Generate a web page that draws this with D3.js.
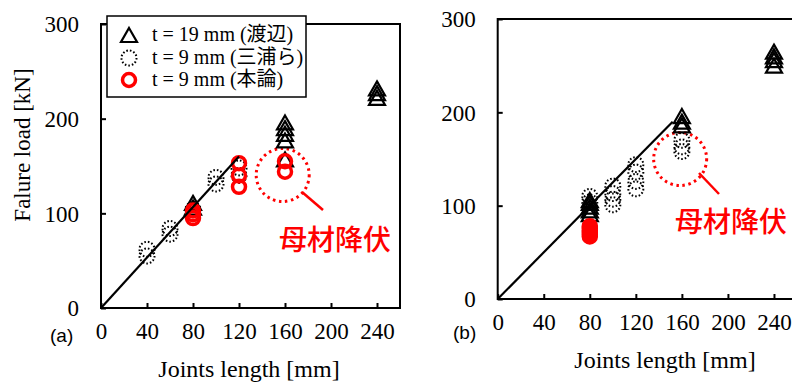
<!DOCTYPE html>
<html><head><meta charset="utf-8">
<script src="https://cdn.jsdelivr.net/npm/d3@7/dist/d3.min.js"></script>
<style>
body{margin:0;background:#fff;}
svg{display:block;}
</style></head>
<body><svg id="c" width="792" height="385"></svg>
<script>
// ---- data ----
const xTicks = [0, 40, 80, 120, 160, 200, 240];
const yTicks = [0, 100, 200, 300];
const xDomain = [0, 260];
const yDomain = [0, 300];
const legendLabels = ["t = 19 mm (渡辺)", "t = 9 mm (三浦ら)", "t = 9 mm (本論)"];
const annotationText = "母材降伏";
const xTitle = "Joints length [mm]";
const yTitle = "Falure load [kN]";

// panel (a)
const aT19 = [[80,106],[80,111],[160,157],[160,177],[160,184],[160,190],[160,196],[240,222],[240,227],[240,232]];
const aMiura = [[40,55],[40,62],[60,78],[60,84],[80,104],[100,131],[100,138],[120,140],[120,148]];
const aHonron = [[80,95],[80,99],[80,103],[120,128],[120,140],[120,153],[160,144],[160,155]];
const aLine = [[0,0],[120,160]];

// panel (b)
const bT19 = [[80,91],[80,95],[80,99],[80,103],[80,106],[160,186],[160,190],[160,196],[240,250],[240,256],[240,260],[240,265]];
const bMiura = [[80,104],[80,110],[100,101],[100,107],[100,113],[100,121],[120,118],[120,126],[120,136],[120,144],[160,158],[160,163],[160,170]];
const bHonron = [[80,67],[80,69],[80,71],[80,73],[80,76],[80,78]];
const bLine = [[0,0],[152,190]];

// ---- drawing ----
const svg = d3.select("#c");
const RED = "#ff0000";
const SERIF = '"Liberation Serif","Times New Roman",serif';
const SERIF_CJK = '"Liberation Serif","Noto Sans CJK JP",serif';
const SANS = '"Liberation Sans",Arial,sans-serif';
const CJK = '"Noto Sans CJK JP",sans-serif';

function triPath(cx, cy){
  const h = 14, w = 8;
  return `M${cx},${cy-h/2}L${cx+w},${cy+h/2}L${cx-w},${cy+h/2}Z`;
}

function panel(cfg){
  const x = d3.scaleLinear(xDomain, cfg.xr);
  const y = d3.scaleLinear(yDomain, cfg.yr);
  const g = svg.append("g");

  g.append("rect").attr("x", cfg.xr[0]).attr("y", cfg.yr[1])
    .attr("width", cfg.xr[1]-cfg.xr[0]).attr("height", cfg.yr[0]-cfg.yr[1])
    .attr("fill","none").attr("stroke","#000").attr("stroke-width",2);

  const xa = g.append("g").attr("transform",`translate(0,${cfg.yr[0]})`)
    .call(d3.axisBottom(x).tickValues(xTicks).tickSizeInner(-5).tickSizeOuter(0).tickPadding(15));
  const ya = g.append("g").attr("transform",`translate(${cfg.xr[0]},0)`)
    .call(d3.axisLeft(y).tickValues(yTicks).tickSizeInner(-5).tickSizeOuter(0).tickPadding(22));
  [xa, ya].forEach(a=>{
    a.attr("font-family", null).attr("font-size", null);
    a.select(".domain").remove();
    a.selectAll("line").attr("stroke","#000").attr("stroke-width",2);
    a.selectAll("text").style("font-family",SERIF).style("font-size","23px").attr("fill","#000");
  });
  ya.selectAll("text").attr("dy","0.34em");

  g.append("circle").attr("cx", x(cfg.ann.cx)).attr("cy", y(cfg.ann.cy)).attr("r", 26.5)
    .attr("fill","none").attr("stroke",RED).attr("stroke-width",3)
    .attr("stroke-dasharray","2.5,3.6");
  g.append("line").attr("x1",cfg.ann.l[0]).attr("y1",cfg.ann.l[1]).attr("x2",cfg.ann.l[2]).attr("y2",cfg.ann.l[3])
    .attr("stroke",RED).attr("stroke-width",2.5);
  g.append("text").attr("x",cfg.ann.tx).attr("y",cfg.ann.ty)
    .style("font-family",CJK).style("font-size","28px").style("font-weight","500")
    .attr("fill",RED).text(annotationText);

  g.selectAll(".tri").data(cfg.t19).join("path").attr("class","tri")
    .attr("d", d=>triPath(x(d[0]), y(d[1])))
    .attr("fill","none").attr("stroke","#000").attr("stroke-width",2.2);
  g.selectAll(".mi").data(cfg.miura).join("circle").attr("class","mi")
    .attr("cx", d=>x(d[0])).attr("cy", d=>y(d[1])).attr("r",7.5)
    .attr("fill","none").attr("stroke","#000").attr("stroke-width",2)
    .attr("stroke-dasharray","1.6,2");
  g.selectAll(".ho").data(cfg.hon).join("circle").attr("class","ho")
    .attr("cx", d=>x(d[0])).attr("cy", d=>y(d[1])).attr("r",6.5)
    .attr("fill","none").attr("stroke",RED).attr("stroke-width",3.5);
  g.append("path").datum(cfg.line)
    .attr("d", d3.line().x(d=>x(d[0])).y(d=>y(d[1])))
    .attr("fill","none").attr("stroke","#000").attr("stroke-width",2.2);

  g.append("text").attr("x",cfg.xt[0]).attr("y",cfg.xt[1])
    .style("font-family",SERIF).attr("text-anchor","middle").style("font-size","24px").text(xTitle);
  g.append("text").attr("x",cfg.lab[0]).attr("y",cfg.lab[1])
    .style("font-family",SANS).style("font-size","19px")
    .text(cfg.label);
  return {x,y,g};
}

panel({
  xr:[101,400], yr:[308,24],
  t19:aT19, miura:aMiura, hon:aHonron, line:aLine,
  ann:{cx:158, cy:140.5, l:[302,192,323,210], tx:279, ty:250},
  xt:[249,377], lab:[50,342], label:"(a)"
});
panel({
  xr:[497.7,797], yr:[299,19],
  t19:bT19, miura:bMiura, hon:bHonron, line:bLine,
  ann:{cx:158.5, cy:150, l:[699,173,719,194], tx:675, ty:232},
  xt:[665,368], lab:[453,339], label:"(b)"
});

svg.append("text").style("font-family",SERIF)
  .attr("transform","translate(30,145) rotate(-90)")
  .attr("text-anchor","middle").style("font-size","23px").text(yTitle);

const lg = svg.append("g");
lg.append("rect").attr("x",107).attr("y",16).attr("width",199).attr("height",81)
  .attr("fill","#fff").attr("stroke","#000").attr("stroke-width",1.5);
const rows = [35, 58, 80];
lg.append("path").attr("d", triPath(129, rows[0])).attr("fill","none").attr("stroke","#000").attr("stroke-width",2.2);
lg.append("circle").attr("cx",129).attr("cy",rows[1]).attr("r",7.5).attr("fill","none")
  .attr("stroke","#000").attr("stroke-width",2).attr("stroke-dasharray","1.6,2");
lg.append("circle").attr("cx",129).attr("cy",rows[2]).attr("r",6.5).attr("fill","none")
  .attr("stroke",RED).attr("stroke-width",3.5);
lg.selectAll(".lt").data(legendLabels).join("text").attr("class","lt")
  .attr("x",152).attr("y",(d,i)=>rows[i]+6)
  .style("font-family",SERIF_CJK).style("font-size","20px")
  .text(d=>d);
</script></body></html>
